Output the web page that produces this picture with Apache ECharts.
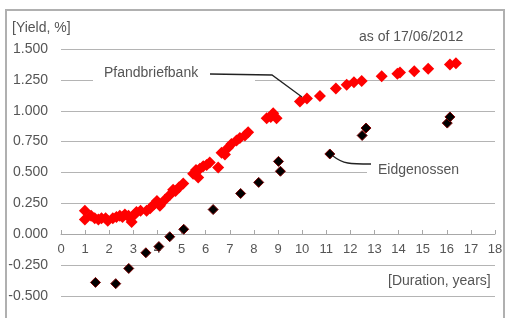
<!DOCTYPE html>
<html>
<head>
<meta charset="utf-8">
<script src="https://cdn.jsdelivr.net/npm/echarts@6/dist/echarts.min.js"></script>
<style>
  html, body { margin: 0; padding: 0; background: #fff; }
  #chart { width: 508px; height: 318px; }
</style>
</head>
<body>
<div id="chart"></div>
<script>
// Pfandbriefbank yields [duration, yield %]
const pfandbrief = [
  [0.99, 0.19], [0.99, 0.12], [1.25, 0.15], [1.4, 0.13], [1.55, 0.12], [1.68, 0.13],
  [1.85, 0.13], [1.94, 0.11], [2.15, 0.13], [2.3, 0.14], [2.44, 0.15], [2.55, 0.14],
  [2.65, 0.16], [2.8, 0.15], [2.86, 0.13], [2.93, 0.10], [3.05, 0.16], [3.13, 0.18],
  [3.3, 0.19], [3.55, 0.19], [3.7, 0.21], [3.85, 0.24], [3.98, 0.27], [4.1, 0.23],
  [4.31, 0.28], [4.52, 0.32], [4.65, 0.36], [4.75, 0.35], [4.9, 0.38], [5.07, 0.41],
  [5.48, 0.49], [5.6, 0.52], [5.69, 0.46], [5.76, 0.53], [5.9, 0.55], [6.04, 0.56],
  [6.17, 0.58], [6.52, 0.54], [6.66, 0.66], [6.8, 0.645], [6.93, 0.70], [7.07, 0.73],
  [7.28, 0.76], [7.42, 0.78], [7.63, 0.80], [7.76, 0.825], [8.53, 0.94], [8.7, 0.95],
  [8.8, 0.98], [8.94, 0.94], [9.91, 1.075], [10.2, 1.1], [10.74, 1.12], [11.4, 1.18],
  [11.85, 1.21], [12.15, 1.23], [12.47, 1.24], [13.3, 1.28], [13.95, 1.30], [14.06, 1.31],
  [14.65, 1.32], [15.23, 1.34], [16.13, 1.375], [16.38, 1.385]
];

// Eidgenossen yields [duration, yield %]
const eidgenossen = [
  [1.43, -0.39], [2.27, -0.40], [2.81, -0.277], [3.52, -0.15], [4.06, -0.10],
  [4.51, -0.02], [5.09, 0.04], [6.31, 0.20], [7.45, 0.33], [8.2, 0.42],
  [9.02, 0.59], [9.1, 0.51], [11.15, 0.65], [12.49, 0.80], [12.65, 0.86],
  [16.02, 0.90], [16.13, 0.95]
];

const font = '"Liberation Sans", Arial, sans-serif';
const textColor = '#555';

const chart = echarts.init(document.getElementById('chart'));

const option = {
  animation: false,
  grid: { left: 61, right: 13, top: 49, bottom: 22 },
  xAxis: {
    type: 'value',
    min: 0,
    max: 18,
    interval: 1,
    // the axis sits on y = 0 (grid bottom is at -0.5)
    offset: -62,
    axisLine: { onZero: false, lineStyle: { color: '#a8a8a8', width: 1 } },
    axisTick: { show: true, inside: true, length: 4, lineStyle: { color: '#a8a8a8' } },
    axisLabel: { color: textColor, fontSize: 13, fontFamily: font, margin: 9 },
    splitLine: { show: false }
  },
  yAxis: {
    type: 'value',
    min: -0.5,
    max: 1.5,
    interval: 0.25,
    axisLine: { show: false },
    axisTick: { show: false },
    axisLabel: {
      color: textColor, fontSize: 14, fontFamily: font, margin: 13,
      formatter: v => v.toFixed(3)
    },
    splitLine: { lineStyle: { color: '#b4b4b4', width: 1 } }
  },
  series: [
    {
      name: 'Pfandbriefbank',
      type: 'scatter',
      symbol: 'diamond',
      symbolSize: 12,
      itemStyle: { color: '#ff0000', opacity: 1 },
      data: pfandbrief,
      z: 3
    },
    {
      name: 'Eidgenossen',
      type: 'scatter',
      symbol: 'diamond',
      symbolSize: 10,
      itemStyle: { color: '#000', borderColor: '#7a0000', borderWidth: 1, opacity: 1 },
      data: eidgenossen,
      z: 4
    }
  ],
  graphic: [
    // outer frame
    { type: 'rect', shape: { x: 6, y: 10, width: 498, height: 330 },
      style: { fill: 'none', stroke: '#b0b0b0', lineWidth: 2 }, silent: true },
    { type: 'text', left: 12, top: 21,
      style: { text: '[Yield, %]', font: '14px ' + font, fill: textColor } },
    { type: 'text', left: 359, top: 30,
      style: { text: 'as of 17/06/2012', font: '14px ' + font, fill: textColor } },
    // Pfandbriefbank label
    { type: 'rect', shape: { x: 93, y: 64, width: 162, height: 20 },
      style: { fill: '#fff' }, z: 50 },
    { type: 'text', left: 104, top: 66, z: 51,
      style: { text: 'Pfandbriefbank', font: '14px ' + font, fill: textColor } },
    { type: 'polyline', shape: { points: [[210, 74], [272, 75], [302, 97]] },
      style: { stroke: '#222', lineWidth: 1.3, fill: 'none' }, z: 52 },
    // Eidgenossen label
    { type: 'rect', shape: { x: 367, y: 161, width: 130, height: 20 },
      style: { fill: '#fff' }, z: 50 },
    { type: 'text', left: 378, top: 163, z: 51,
      style: { text: 'Eidgenossen', font: '14px ' + font, fill: textColor } },
    { type: 'bezierCurve',
      shape: { x1: 333, y1: 156, x2: 371, y2: 164, cpx1: 343, cpy1: 164, cpx2: 350, cpy2: 164 },
      style: { stroke: '#222', lineWidth: 1.3, fill: 'none' }, z: 52 },
    { type: 'text', left: 388, top: 274,
      style: { text: '[Duration, years]', font: '14px ' + font, fill: textColor } }
  ]
};

chart.setOption(option);
</script>
</body>
</html>
